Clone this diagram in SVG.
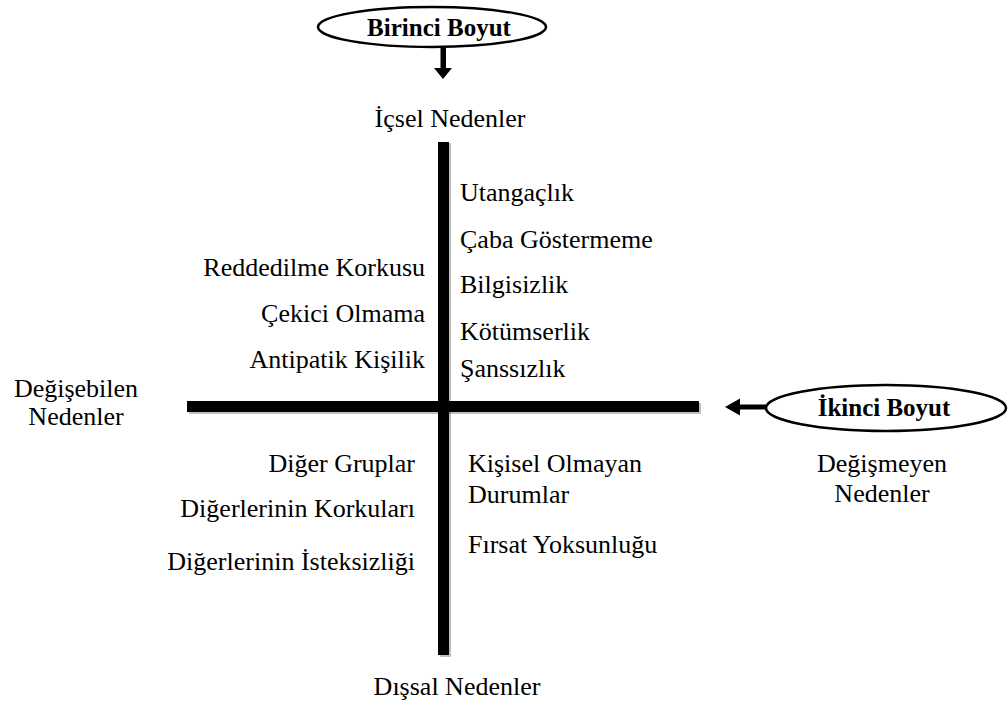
<svg xmlns="http://www.w3.org/2000/svg" width="1008" height="704" viewBox="0 0 1008 704">
<style>
text{font-family:"Liberation Serif","Times New Roman",serif;font-size:26px;fill:#000}
.b{font-weight:bold;font-size:25px}
.m{text-anchor:middle}
.e{text-anchor:end}
.oval{fill:#fff;stroke:#000;stroke-width:2.5}
.shadow{fill:#000;opacity:0.25}
</style>
<rect width="1008" height="704" fill="#fff"/>
<g id="connectors">
  <rect class="shadow" x="189" y="403" width="512" height="11"/>
  <rect class="shadow" x="440" y="143" width="11" height="514"/>
  <rect x="187" y="401" width="512" height="11" fill="#000"/>
  <rect x="438" y="142" width="11" height="513" fill="#000"/>
  <path d="M440.5 48 V68 H434 L443 79 L452 68 H446 V48 Z" fill="#000"/>
  <path d="M766 404.5 H740 V398.5 L725 407 L740 415.5 V409.5 H766 Z" fill="#000"/>
</g>
<g id="node-birinci">
  <ellipse class="oval" cx="432" cy="27" rx="114" ry="20"/>
  <text class="b m" x="439" y="36">Birinci Boyut</text>
</g>
<g id="node-ikinci">
  <ellipse class="oval" cx="886" cy="408" rx="120" ry="23"/>
  <text class="b m" x="884" y="416">İkinci Boyut</text>
</g>
<g id="node-icsel"><text class="m" x="450" y="127">İçsel Nedenler</text></g>
<g id="node-dissal"><text class="m" x="457" y="695">Dışsal Nedenler</text></g>
<g id="node-degisebilen">
  <text class="m" x="76" y="397">Değişebilen</text>
  <text class="m" x="76" y="425">Nedenler</text>
</g>
<g id="node-degismeyen">
  <text class="m" x="882" y="472">Değişmeyen</text>
  <text class="m" x="882" y="502">Nedenler</text>
</g>
<g id="node-top-left">
  <text class="e" x="425" y="276">Reddedilme Korkusu</text>
  <text class="e" x="425" y="322">Çekici Olmama</text>
  <text class="e" x="425" y="368">Antipatik Kişilik</text>
</g>
<g id="node-top-right">
  <text x="460" y="201">Utangaçlık</text>
  <text x="460" y="248">Çaba Göstermeme</text>
  <text x="460" y="293">Bilgisizlik</text>
  <text x="460" y="340">Kötümserlik</text>
  <text x="460" y="377">Şanssızlık</text>
</g>
<g id="node-bottom-left">
  <text class="e" x="415" y="472">Diğer Gruplar</text>
  <text class="e" x="415" y="517">Diğerlerinin Korkuları</text>
  <text class="e" x="415" y="570">Diğerlerinin İsteksizliği</text>
</g>
<g id="node-bottom-right">
  <text x="468" y="472">Kişisel Olmayan</text>
  <text x="468" y="503">Durumlar</text>
  <text x="468" y="553">Fırsat Yoksunluğu</text>
</g>
</svg>
